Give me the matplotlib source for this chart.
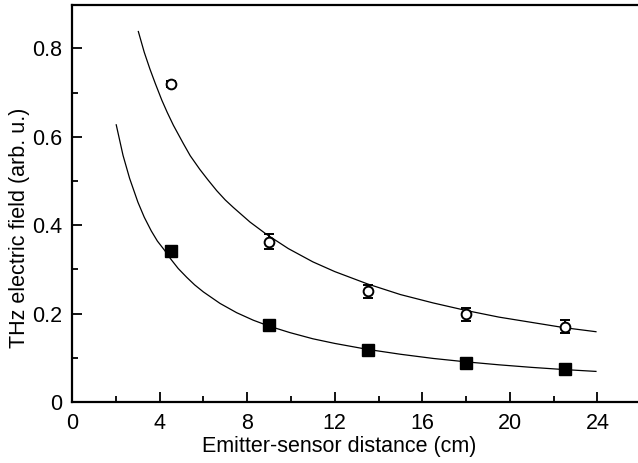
import matplotlib
matplotlib.use('Agg')
import matplotlib.pyplot as plt
from matplotlib.ticker import MultipleLocator

plt.rcParams['font.family'] = ['Liberation Sans', 'DejaVu Sans']

# measured points (open circles, with error bars)
dist = [4.5, 9.0, 13.5, 18.0, 22.5]
open_y = [0.719, 0.363, 0.250, 0.198, 0.170]
open_err = [0.006, 0.016, 0.015, 0.014, 0.015]

# measured points (filled squares)
filled_y = [0.342, 0.174, 0.118, 0.0875, 0.0747]

# fit curves
upper_x = [3.03, 3.3, 3.56, 3.8, 4.10, 4.35, 4.63, 5.08, 5.4, 5.84, 6.2, 6.61, 7.0, 7.37,
           8.13, 8.89, 9.88, 11.0, 12.0, 13.5, 15.0, 16.5, 18.0, 19.5, 21.0, 22.5, 23.93]
upper_y = [0.838, 0.791, 0.753, 0.721, 0.683, 0.655, 0.626, 0.585, 0.557, 0.526, 0.503, 0.478,
           0.457, 0.440, 0.407, 0.379, 0.347, 0.317, 0.295, 0.267, 0.243, 0.224, 0.207, 0.192,
           0.180, 0.168, 0.159]
lower_x = [2.02, 2.33, 2.63, 3.01, 3.3, 3.62, 3.9, 4.23, 4.5, 4.85, 5.24, 5.6, 6.0, 6.76,
           7.52, 8.28, 9.04, 9.95, 11.0, 12.0, 13.5, 15.0, 16.5, 18.0, 19.5, 21.0, 22.5, 23.93]
lower_y = [0.627, 0.558, 0.506, 0.452, 0.418, 0.387, 0.364, 0.343, 0.324, 0.302, 0.282, 0.265,
           0.249, 0.223, 0.202, 0.185, 0.171, 0.157, 0.143, 0.1325, 0.119, 0.108, 0.0985,
           0.0908, 0.0841, 0.0783, 0.0733, 0.0692]

fig = plt.figure(figsize=(6.38, 4.63), dpi=100)
ax = fig.add_axes([72 / 638, 1 - 402 / 463, 1 - 72 / 638, (402 - 5) / 463])

ax.plot(upper_x, upper_y, color='black', lw=0.9)
ax.plot(lower_x, lower_y, color='black', lw=0.9)
ax.errorbar(dist, open_y, yerr=open_err, fmt='o', color='black', mfc='white',
            mec='black', ms=7, mew=1.4, elinewidth=1.4, capsize=3.5, capthick=1.4, zorder=5)
ax.plot(dist, filled_y, 's', color='black', ms=8, zorder=5)

ax.set_xlim(0, 25.85)
ax.set_ylim(0, 0.898)
ax.xaxis.set_major_locator(MultipleLocator(4))
ax.xaxis.set_minor_locator(MultipleLocator(2))
ax.yaxis.set_minor_locator(MultipleLocator(0.1))
ax.set_yticks([0, 0.2, 0.4, 0.6, 0.8])
ax.set_yticklabels(['0', '0.2', '0.4', '0.6', '0.8'])

ax.tick_params(which='both', direction='in', width=1.3, labelsize=15.5, top=False, right=False)
ax.tick_params(which='major', length=7)
ax.tick_params(axis='y', which='major', pad=7)
ax.tick_params(axis='x', which='major', pad=8)
ax.tick_params(which='minor', length=4)

for s in ['left', 'bottom', 'top']:
    ax.spines[s].set_linewidth(1.6)
ax.spines['right'].set_visible(False)

ax.set_xlabel('Emitter-sensor distance (cm)', fontsize=15.5, va='center')
ax.set_ylabel('THz electric field (arb. u.)', fontsize=15.5, va='center')
ax.xaxis.set_label_coords(0.472, -0.113)
ax.yaxis.set_label_coords(-0.092, 0.44)

fig.savefig('out.png', dpi=100)
